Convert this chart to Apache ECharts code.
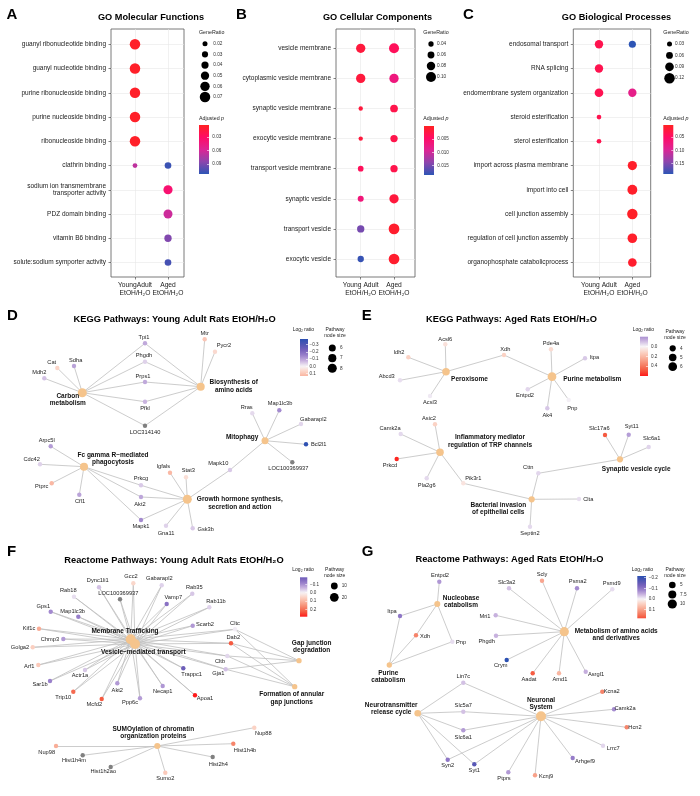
<!DOCTYPE html>
<html>
<head>
<meta charset="utf-8">
<script src="https://cdn.jsdelivr.net/npm/echarts@6.0.0/dist/echarts.min.js"></script>
<style>html,body{margin:0;padding:0;background:#fff;}#chart{width:700px;height:796px;}</style>
</head>
<body>
<div id="chart"></div>
<script>
// ================= DATA =================
// ---- A: GO Molecular Functions ----
const mfTerms = ['guanyl ribonucleotide binding','guanyl nucleotide binding','purine ribonucleoside binding','purine nucleoside binding','ribonucleoside binding','clathrin binding','sodium ion transmembrane\ntransporter activity','PDZ domain binding','vitamin B6 binding','solute:sodium symporter activity'];
const mfGroups = ['YoungAdult\nEtOH/H\u2082O','Aged\nEtOH/H\u2082O'];
const mfYoungRatio = [0.07,0.07,0.07,0.07,0.07,0.018,null,null,null,null];
const mfYoungPadj  = [0.006,0.006,0.006,0.006,0.006,0.068,null,null,null,null];
const mfAgedRatio  = [null,null,null,null,null,0.035,0.058,0.056,0.041,0.035];
const mfAgedPadj   = [null,null,null,null,null,0.108,0.036,0.063,0.088,0.105];
const mfRatioTicks = [0.02,0.03,0.04,0.05,0.06,0.07];
const mfPadjTicks  = [0.03,0.06,0.09];

// ---- B: GO Cellular Components ----
const ccTerms = ['vesicle membrane','cytoplasmic vesicle membrane','synaptic vesicle membrane','exocytic vesicle membrane','transport vesicle membrane','synaptic vesicle','transport vesicle','exocytic vesicle'];
const ccGroups = ['Young Adult\nEtOH/H\u2082O','Aged\nEtOH/H\u2082O'];
const ccYoungRatio = [0.091,0.091,0.028,0.028,0.045,0.049,0.066,0.053];
const ccYoungPadj  = [0.002,0.002,0.002,0.002,0.004,0.0066,0.015,0.018];
const ccAgedRatio  = [0.100,0.091,0.071,0.066,0.066,0.091,0.109,0.109];
const ccAgedPadj   = [0.004,0.007,0.003,0.003,0.003,0.002,0.001,0.001];
const ccRatioTicks = [0.04,0.06,0.08,0.10];
const ccPadjTicks  = [0.005,0.010,0.015];

// ---- C: GO Biological Processes ----
const bpTerms = ['endosomal transport','RNA splicing','endomembrane system organization','steroid esterification','sterol esterification','import across plasma membrane','import into cell','cell junction assembly','regulation of cell junction assembly','organophosphate catabolicprocess'];
const bpGroups = ['Young Adult\nEtOH/H\u2082O','Aged\nEtOH/H\u2082O'];
const bpYoungRatio = [0.085,0.085,0.09,0.025,0.025,null,null,null,null,null];
const bpYoungPadj  = [0.035,0.035,0.037,0.035,0.035,null,null,null,null,null];
const bpAgedRatio  = [0.065,null,0.085,null,null,0.10,0.11,0.12,0.105,0.09];
const bpAgedPadj   = [0.19,null,0.085,null,null,0.01,0.01,0.008,0.01,0.012];
const bpRatioTicks = [0.03,0.06,0.09,0.12];
const bpPadjTicks  = [0.05,0.10,0.15];

// ---- D: KEGG young adult ----
const kyGenes = ['Tpi1','Mtr','Pycr2','Phgdh','Cat','Sdha','Mdh2','Prps1','Pfkl','LOC314140','Rras','Map1lc3b','Gabarapl2','Bcl2l1','LOC100369937','Arpc5l','Cdc42','Igfals','Stat3','Mapk10','Prkcg','Ptprc','Cfl1','Akt2','Mapk1','Gna11','Gsk3b'];
const kyLogRatio = [-0.09,0.10,0.06,-0.04,0.07,-0.10,-0.06,-0.09,-0.075,null,-0.03,-0.135,-0.035,-0.37,null,-0.11,-0.04,0.13,0.05,-0.05,-0.05,0.13,-0.10,-0.095,-0.135,-0.04,-0.05];
const kyPathIds = ['carbon','biosyn','mitophagy','fcgamma','gh'];
const kyPathLabels = ['Carbon\nmetabolism','Biosynthesis of\namino acids','Mitophagy','Fc gamma R\u2212mediated\nphagocytosis','Growth hormone synthesis,\nsecretion and action'];
const kyMembers = [
  ['Cat','Sdha','Mdh2','Tpi1','Phgdh','Prps1','Pfkl','LOC314140'],
  ['Tpi1','Phgdh','Prps1','Pfkl','LOC314140','Mtr','Pycr2'],
  ['Rras','Map1lc3b','Gabarapl2','Bcl2l1','LOC100369937','Mapk10'],
  ['Arpc5l','Cdc42','Ptprc','Cfl1','Prkcg','Akt2','Mapk1'],
  ['Prkcg','Akt2','Mapk1','Gna11','Gsk3b','Igfals','Stat3','Mapk10']];
const kyLrTicks = [-0.3,-0.2,-0.1,0.0,0.1];
const kySizeTicks = [6,7,8];

// ---- E: KEGG aged ----
const kaGenes = ['Acsl6','Idh2','Xdh','Pde4a','Itpa','Abcd3','Entpd2','Acsl3','Pnp','Ak4','Asic2','Camk2a','Prkcd','Slc17a6','Syt11','Slc6a1','Cttn','Pla2g6','Pik3r1','Clta','Septin2'];
const kaLogRatio = [0.07,0.12,0.12,0.09,-0.08,-0.04,-0.055,-0.02,-0.01,-0.085,0.12,-0.05,0.58,0.48,-0.17,-0.06,-0.055,-0.05,0.06,-0.04,-0.05];
const kaPathIds = ['peroxisome','purine','inflammatory','bacterial','synaptic'];
const kaPathLabels = ['Peroxisome','Purine metabolism','Inflammatory mediator\nregulation of TRP channels','Bacterial invasion\nof epithelial cells','Synaptic vesicle cycle'];
const kaMembers = [
  ['Acsl6','Idh2','Xdh','Abcd3','Acsl3'],
  ['Xdh','Pde4a','Itpa','Entpd2','Pnp','Ak4'],
  ['Asic2','Camk2a','Prkcd','Pla2g6','Pik3r1'],
  ['Pik3r1','Cttn','Clta','Septin2'],
  ['Slc17a6','Syt11','Slc6a1','Cttn']];
const kaLrTicks = [0.0,0.2,0.4];
const kaSizeTicks = [4,5,6];

// ---- F: Reactome young adult ----
const ryGenes = ['Dync1li1','Gcc2','Gabarapl2','Rab35','Rab18','LOC100369937','Vamp7','Rab11b','Gps1','Map1lc3b','Scarb2','Cltc','Kif1c','Chmp3','Dab2','Golga2','Cltb','Arf1','Actr1a','Trappc1','Gja1','Sar1b','Akt2','Necap1','Trip10','Mcfd2','Ppp6c','Apoa1','Nup88','Hist1h4b','Nup98','Hist1h4m','Hist2h4','Hist1h2ao','Sumo2'];
const ryLogRatio = [-0.045,0.05,-0.03,-0.04,-0.02,null,-0.14,-0.03,-0.105,-0.12,-0.087,-0.006,0.12,-0.087,0.23,0.063,-0.026,0.072,-0.04,-0.185,-0.046,-0.115,-0.087,-0.09,0.21,0.23,-0.084,0.289,0.058,0.173,0.115,null,null,null,0.07];
const ryTraffic = ['Dync1li1','Gcc2','Gabarapl2','Rab35','Rab18','LOC100369937','Vamp7','Rab11b','Gps1','Map1lc3b','Scarb2','Cltc','Kif1c','Chmp3','Dab2','Golga2','Cltb','Arf1','Actr1a','Trappc1','Gja1','Sar1b','Akt2','Necap1','Trip10','Mcfd2','Ppp6c','Apoa1'];
const ryPathIds = ['mt','vmt','gap','formation','sumo'];
const ryPathLabels = ['Membrane Trafficking','Vesicle\u2212mediated transport','Gap junction\ndegradation','Formation of annular\ngap junctions','SUMOylation of chromatin\norganization proteins'];
const ryMembers = [
  ryTraffic,
  ryTraffic,
  ['Cltc','Dab2','Cltb','Gja1'],
  ['Cltc','Dab2','Cltb','Gja1'],
  ['Nup88','Hist1h4b','Nup98','Hist1h4m','Hist2h4','Hist1h2ao','Sumo2']];
const ryLrTicks = [-0.1,0.0,0.1,0.2];
const rySizeTicks = [10,20];

// ---- G: Reactome aged ----
const raGenes = ['Entpd2','Slc3a2','Scly','Psma2','Psmd9','Itpa','Mri1','Xdh','Phgdh','Pnp','Crym','Aadat','Amd1','Asrgl1','Lin7c','Kcna2','Slc5a7','Camk2a','Slc6a1','Hcn2','Lrrc7','Syn2','Arhgef9','Syt1','Ptprs','Kcnj9'];
const raLogRatio = [-0.067,-0.034,0.095,-0.077,-0.015,-0.10,-0.045,0.13,-0.045,-0.015,-0.215,0.17,0.077,-0.047,-0.034,0.13,-0.034,-0.077,-0.064,0.128,-0.02,-0.10,-0.09,-0.163,-0.065,0.10];
const raPathIds = ['nucleobase','purinecat','metabolism','neurotransmitter','neuronal'];
const raPathLabels = ['Nucleobase\ncatabolism','Purine\ncatabolism','Metabolism of amino acids\nand derivatives','Neurotransmitter\nrelease cycle','Neuronal\nSystem'];
const raMembers = [
  ['Entpd2','Itpa','Xdh','Pnp'],
  ['Itpa','Xdh','Pnp'],
  ['Slc3a2','Scly','Psma2','Psmd9','Mri1','Phgdh','Crym','Aadat','Amd1','Asrgl1'],
  ['Lin7c','Slc5a7','Slc6a1','Syn2','Syt1'],
  ['Lin7c','Slc5a7','Slc6a1','Syn2','Syt1','Ptprs','Kcnj9','Arhgef9','Lrrc7','Hcn2','Camk2a','Kcna2']];
const raLrTicks = [-0.2,-0.1,0.0,0.1];
const raSizeTicks = [5,7.5,10];

// ============ NETWORK LAYOUTS (node position x, y inside panel; label offset dx, dy) ============
const kyLayout = {
  Tpi1:[145,43.3,-1,-6], Mtr:[204.7,39.3,0,-6], Pycr2:[215,51.7,9,-6], Phgdh:[145,61.7,-1,-6],
  Cat:[57.3,68,-5.6,-5.7], Sdha:[74,66,1.7,-6], Mdh2:[44.3,78.3,-5,-5.6], Prps1:[145,82,-2,-6],
  Pfkl:[145,101.7,0,6.6], LOC314140:[145,125.7,0,7], Rras:[252.3,113.3,-5.6,-5.5], Map1lc3b:[279.3,110.3,0.7,-6.6],
  Gabarapl2:[301,124,12.3,-5], Bcl2l1:[306,144.3,12.7,0], LOC100369937:[292.3,162.3,-4,6.4],
  Arpc5l:[50.7,146.3,-4,-5.6], Cdc42:[40,164.3,-8.3,-5.3], Igfals:[170,172.7,-6.7,-6], Stat3:[186,177.3,2.3,-7],
  Mapk10:[230,170,-11.7,-6.7], Prkcg:[141,185.3,0,-7], Ptprc:[51.7,183.3,-10,3.4], Cfl1:[79.3,194.7,0.7,7],
  Akt2:[141,197,-1,7], Mapk1:[141,220,0,6], Gna11:[166,225.7,0,7.6], Gsk3b:[192.7,228.3,13,1],
  carbon:[82.3,92.7,-14.5,7.2], biosyn:[200.7,86.7,33,-0.4], mitophagy:[265,140.7,-22.8,-3.7],
  fcgamma:[84,166.7,29,-8], gh:[187.3,199.3,52.5,4]
};
const kaLayout = {
  Acsl6:[95.3,44.3,0,-5.3], Idh2:[58.3,57.3,-9.3,-5], Xdh:[154,55,1.3,-6], Pde4a:[201,49.3,0,-6],
  Itpa:[235,58.3,9.3,-1], Abcd3:[50,80.3,-13.3,-3.6], Entpd2:[177.7,89.3,-2.7,6.4], Acsl3:[80,96,0,6.5],
  Pnp:[218.7,100,3.6,8.3], Ak4:[197.3,108.3,0,6.7], Asic2:[85,124.3,-6,-6], Camk2a:[50.7,134,-10.7,-5.7],
  Prkcd:[46.7,159,-6.7,6], Slc17a6:[255,135,-5.7,-6.7], Syt11:[278.7,134.7,3,-8], Slc6a1:[298.7,147,3,-8.7],
  Cttn:[188.3,173.3,-10,-6], Pla2g6:[76.7,178.3,0,6.7], Pik3r1:[113.3,183.3,10,-4.5], Clta:[229,199,9.3,0],
  Septin2:[180,226.7,0,6.6],
  peroxisome:[96,71.7,23.5,7.3], purine:[202,76.7,40.3,2.3], inflammatory:[90,152.3,50,-11.1],
  bacterial:[181.7,199.3,-33.4,9.5], synaptic:[270,159.3,16.2,10]
};
const ryLayout = {
  Dync1li1:[99,47.3,-1.3,-6.6], Gcc2:[133.3,43.3,-2.3,-6.6], Gabarapl2:[161.7,45.3,-2.4,-7], Rab35:[192.3,53.7,2,-6],
  Rab18:[74,56.7,-5.7,-6], LOC100369937:[120,59.3,-1.7,-6], Vamp7:[166.7,64,6.6,-6.7], Rab11b:[209.3,67.3,6.7,-5.6],
  Gps1:[50.7,71.7,-7.4,-5.7], Map1lc3b:[78.3,76.7,-5.6,-5.7], Scarb2:[192.7,85.7,12.3,-1.7], Cltc:[235,89.3,0,-6],
  Kif1c:[39,88.7,-10,0], Chmp3:[63.3,99,-13.3,0], Dab2:[231,103.3,2.3,-6], Golga2:[32.7,107.3,-12.7,0],
  Cltb:[227.3,116,-7.3,5], Arf1:[38.3,125,-9,1], Actr1a:[85,130,-5,5], Trappc1:[183.3,128.3,8.4,6],
  Gja1:[225.7,129.3,-7.4,4], Sar1b:[50,141,-10,3], Akt2:[117.3,143.3,0,6.7], Necap1:[162.7,146,0,5.5],
  Trip10:[73.3,151.7,-10,6], Mcfd2:[101.7,159,-7.4,5], Ppp6c:[140,158.3,-10,4], Apoa1:[195,155.3,10,3.4],
  Nup88:[254.3,187.7,9,6], Hist1h4b:[233.3,203.7,11.7,6.3], Nup98:[56,206,-9.3,6], Hist1h4m:[82.7,215.3,-8.7,4.7],
  Hist2h4:[212.7,217,5.6,7], Hist1h2ao:[110.7,227,-7.4,4.7], Sumo2:[165.3,232.7,0,5.6],
  mt:[130.7,99.3,-5.7,-7.6], vmt:[135,104,8.3,8.7], gap:[299,120.7,12.7,-14], formation:[294.7,146.7,-3,11.6],
  sumo:[157.3,206,-4,-13.5]
};
const raLayout = {
  Entpd2:[89.3,41.7,0.7,-6.7], Slc3a2:[159,48.3,-2.3,-6], Scly:[192,40.7,0,-6.4], Psma2:[227,48.3,0.7,-6.6],
  Psmd9:[262.3,49.3,-0.6,-5.6], Itpa:[50,76,-8,-4.3], Mri1:[145.7,75.3,-10.7,0.7], Xdh:[66,95.3,9,0.7],
  Phgdh:[146,95.7,-9.3,6], Pnp:[102.3,101.7,8.7,0.3], Crym:[156.7,120,-6,5.7], Aadat:[182.7,133.3,-3.7,6],
  Amd1:[209,133.3,1,6], Asrgl1:[235.7,131.7,10.3,2.6], Lin7c:[113.3,142.7,0,-6], Kcna2:[252.3,151.7,9.4,-0.7],
  Slc5a7:[113.3,171.7,0,-6.7], Camk2a:[264,169.3,11,-1], Slc6a1:[113.3,190.3,0,7], Hcn2:[276.7,187.3,8.3,0.4],
  Lrrc7:[253,205.7,10.3,2.6], Syn2:[97.7,219.7,0,6], Arhgef9:[222.7,218,12.3,3.3], Syt1:[124.3,224.3,0,6.4],
  Ptprs:[158.3,232.3,-4.3,6], Kcnj9:[185,235.3,11,1.4],
  nucleobase:[87.3,64,23.7,-2.3], purinecat:[39.3,125,-1,11.5], metabolism:[214.3,91.7,51.9,3.3],
  neurotransmitter:[67.7,173.3,-26.5,-4.6], neuronal:[191,176.3,0,-12.6]
};

// ================= STYLE =================
const FONT = "'Liberation Sans', Arial, Helvetica, sans-serif";
const P_COLORS = ['#ff2222','#ff0c66','#dc2595','#8c46ad','#2d55b5'];
const LR_STOPS = ['#2b50b2','#4f55b3','#7560bb','#9a80cb','#c9b3df','#f7f4f7','#fbd2c4','#f9ae98','#f6856b','#f55a40','#ff1a1a'];
const HUB_COLOR = '#f5c48c';
const NA_COLOR = '#808080';
const EDGE_COLOR = '#bfbfbf';

const grids = [], xAxes = [], yAxes = [], series = [], visualMaps = [], graphics = [];

function addGrid(g, xa, ya) {
  const i = grids.length;
  grids.push(Object.assign({containLabel: false, outerBoundsMode: 'none'}, g));
  const noZero = {axisLine: Object.assign({show: false, onZero: false}, {})};
  xAxes.push(Object.assign({gridIndex: i}, noZero, xa));
  yAxes.push(Object.assign({gridIndex: i}, noZero, ya));
  return i;
}
function txt(str, x, y, o) {
  o = o || {};
  const style = {text: str, fill: o.color || '#000', fontSize: o.size || 6, fontWeight: o.bold ? 'bold' : 'normal',
    fontFamily: FONT, align: o.align || 'left', verticalAlign: 'middle'};
  if (o.lh) style.lineHeight = o.lh;
  if (o.rich) style.rich = o.rich;
  graphics.push({type: 'text', x: x, y: y, silent: true, z: 10, style: style});
}
const linearDiam = (v0, d0, v1, d1) => v => d0 + (v - v0) * (d1 - d0) / (v1 - v0);
const areaDiam = (c0, d0, c1, d1) => c => Math.sqrt(Math.max(1, d0 * d0 + (c - c0) / (c1 - c0) * (d1 * d1 - d0 * d0)));
const lrColor = (v, M) => echarts.color.lerp(Math.min(1, Math.max(0, 0.5 + v / (2 * M))), LR_STOPS);
const HIDDEN_LINE = {show: false, onZero: false};

function sizeLegend(cx, top, rowH, values, labels, sizeFn, gap, fs) {
  const gi = addGrid({left: cx - 5, top: top, width: 10, height: rowH * values.length, show: false},
    {type: 'category', data: [''], show: false},
    {type: 'category', data: labels, inverse: true, position: 'right', axisLine: HIDDEN_LINE, axisTick: {show: false},
     splitLine: {show: false}, axisLabel: {interval: 0, fontSize: fs, margin: gap - 5, color: '#333', fontFamily: FONT}});
  series.push({type: 'scatter', xAxisIndex: gi, yAxisIndex: gi, silent: true,
    data: values.map((v, i) => ({value: [0, i], symbolSize: sizeFn(v)})), itemStyle: {color: '#000', opacity: 1}});
}
function colorBar(rect, min, max, ticks, stops, fmt, margin) {
  const gi = addGrid({left: rect[0], top: rect[1], width: rect[2], height: rect[3], show: true, borderWidth: 0,
      backgroundColor: {type: 'linear', x: 0, y: 0, x2: 0, y2: 1, colorStops: stops}},
    {type: 'value', min: 0, max: 1, show: false},
    {type: 'value', min: min, max: max, inverse: true, position: 'right', axisLine: HIDDEN_LINE, splitLine: {show: false},
     axisTick: {show: true, inside: true, length: 2, customValues: ticks, lineStyle: {color: '#fff', width: 0.6}},
     axisLabel: {customValues: ticks, formatter: fmt, fontSize: 4.6, margin: margin, color: '#333', fontFamily: FONT}});
  return gi;
}

function dotPlot(c) {
  const idx = c.terms.map((_, i) => i);
  const gl = {color: '#e8e8e8', width: 0.6};
  const gi = addGrid(
    {left: c.frame[0], top: c.frame[1], width: c.frame[2], height: c.frame[3], show: true, borderColor: '#595959', borderWidth: 0.8, backgroundColor: '#fff'},
    {type: 'value', min: c.xRange[0], max: c.xRange[1], position: 'bottom', axisLine: HIDDEN_LINE,
     axisTick: {show: true, customValues: [0, 1], length: 2.5, lineStyle: {color: '#333', width: 0.6}},
     axisLabel: {customValues: [0, 1], formatter: v => c.groups[Math.round(v)], fontSize: 6.7, lineHeight: 7.8, margin: 4.5, color: '#1a1a1a', fontFamily: FONT},
     splitLine: {show: true, lineStyle: gl}},
    {type: 'value', min: c.yRange[0], max: c.yRange[1], inverse: true, position: 'left', axisLine: HIDDEN_LINE,
     axisTick: {show: true, customValues: idx, length: 2.5, lineStyle: {color: '#333', width: 0.6}},
     axisLabel: {customValues: idx, formatter: v => c.terms[Math.round(v)], fontSize: 6.5, lineHeight: 7.7, margin: 5, color: '#1a1a1a', fontFamily: FONT},
     splitLine: {show: true, lineStyle: gl}});
  const data = [];
  [c.young, c.aged].forEach((g, col) => {
    g[0].forEach((r, i) => { if (r != null) data.push([col, i, r, g[1][i]]); });
  });
  series.push({type: 'scatter', xAxisIndex: gi, yAxisIndex: gi, data: data, symbolSize: v => c.size(v[2]),
    itemStyle: {opacity: 1}, silent: true, z: 5});
  visualMaps.push({type: 'continuous', show: false, seriesIndex: series.length - 1, dimension: 3,
    min: c.pRange[0], max: c.pRange[1], inRange: {color: P_COLORS}});
  // legends
  const lg = c.legend;
  txt('GeneRatio', lg.x, 33, {size: 5.3, color: '#222'});
  sizeLegend(lg.cx, lg.rowsTop, lg.rowH, c.ratioTicks, c.ratioTicks.map(v => v.toFixed(2)), c.size, lg.gap, 4.7);
  txt('{a|Adjusted }{b|p}', lg.x, 118.5, {size: 5.3, rich: {
    a: {fontSize: 5.3, fontFamily: FONT, fill: '#222'}, b: {fontSize: 5.3, fontStyle: 'italic', fontFamily: FONT, fill: '#222'}}});
  const stops = P_COLORS.map((col, i) => ({offset: i / (P_COLORS.length - 1), color: col}));
  colorBar(lg.bar, c.pRange[0], c.pRange[1], c.pTicks, stops, v => v.toFixed(c.pDigits), lg.barMargin);
}

function network(c) {
  const [ox, oy, w, h] = c.rect;
  const gi = addGrid({left: ox, top: oy, width: w, height: h, show: false},
    {type: 'value', min: 0, max: w, show: false},
    {type: 'value', min: 0, max: h, inverse: true, show: false});
  const nodes = [];
  c.pathIds.forEach((id, k) => {
    const L = c.layout[id];
    nodes.push({name: id, value: [L[0], L[1]], symbolSize: c.hubSize(c.members[k].length), itemStyle: {color: HUB_COLOR},
      label: {show: true, position: 'inside', offset: [L[2], L[3]], formatter: c.pathLabels[k], fontSize: 6.5,
        fontWeight: 'bold', color: '#111', lineHeight: 7.3, fontFamily: FONT}});
  });
  c.genes.forEach((g, k) => {
    const L = c.layout[g]; const v = c.logRatio[k];
    nodes.push({name: g, value: [L[0], L[1]], symbolSize: 4.4, itemStyle: {color: v == null ? NA_COLOR : lrColor(v, c.M)},
      label: {show: true, position: 'inside', offset: [L[2], L[3]], fontSize: 5.7, color: '#222', fontFamily: FONT}});
  });
  const links = [];
  c.pathIds.forEach((id, k) => c.members[k].forEach(g => links.push({source: id, target: g})));
  series.push({type: 'graph', layout: 'none', coordinateSystem: 'cartesian2d', xAxisIndex: gi, yAxisIndex: gi,
    data: nodes, links: links, silent: true, roam: false,
    lineStyle: {color: EDGE_COLOR, width: 0.8, opacity: 1, curveness: 0}, itemStyle: {opacity: 1},
    emphasis: {disabled: true}});
  // legends
  const lg = c.legend;
  txt('Log\u2082 ratio', lg.titleX, lg.titleY, {size: 5, color: '#222'});
  const n = 24, stops = [];
  for (let i = 0; i <= n; i++) {
    const v = c.lrRange[0] + (c.lrRange[1] - c.lrRange[0]) * i / n;
    stops.push({offset: i / n, color: lrColor(v, c.M)});
  }
  colorBar(lg.bar, c.lrRange[0], c.lrRange[1], c.lrTicks, stops,
    v => (v < -1e-9 ? '\u2212' : '') + Math.abs(v).toFixed(1), lg.barMargin);
  txt('Pathway\nnode size', lg.sizeTitleX, lg.sizeTitleY, {size: 5, color: '#222', align: 'center', lh: 6});
  sizeLegend(lg.cx, lg.rowsTop, lg.rowH, c.sizeTicks, c.sizeTicks.map(String), c.hubSize, lg.gap, 4.7);
}

// ================= BUILD =================
dotPlot({terms: mfTerms, groups: mfGroups, young: [mfYoungRatio, mfYoungPadj], aged: [mfAgedRatio, mfAgedPadj],
  frame: [111, 29, 73, 248], xRange: [-0.727, 1.485], yRange: [-0.631, 9.598],
  size: linearDiam(0.02, 5, 0.07, 10.5), pRange: [0.0033, 0.112], pTicks: mfPadjTicks, pDigits: 2, ratioTicks: mfRatioTicks,
  legend: {x: 199, cx: 205, rowsTop: 38.4, rowH: 10.66, gap: 8.3, bar: [199, 125, 10, 49], barMargin: 3.3}});
dotPlot({terms: ccTerms, groups: ccGroups, young: [ccYoungRatio, ccYoungPadj], aged: [ccAgedRatio, ccAgedPadj],
  frame: [336, 29, 79, 248], xRange: [-0.742, 1.63], yRange: [-0.641, 7.598],
  size: linearDiam(0.04, 5.3, 0.10, 10), pRange: [0.0002, 0.0185], pTicks: ccPadjTicks, pDigits: 3, ratioTicks: ccRatioTicks,
  legend: {x: 423.3, cx: 431, rowsTop: 38.5, rowH: 11, gap: 6, bar: [424, 126, 10, 49], barMargin: 3.3}});
dotPlot({terms: bpTerms, groups: bpGroups, young: [bpYoungRatio, bpYoungPadj], aged: [bpAgedRatio, bpAgedPadj],
  frame: [573.3, 29, 77.4, 248], xRange: [-0.77, 1.55], yRange: [-0.631, 9.598],
  size: linearDiam(0.03, 5, 0.12, 10.5), pRange: [0.004, 0.19], pTicks: bpPadjTicks, pDigits: 2, ratioTicks: bpRatioTicks,
  legend: {x: 663.3, cx: 669.5, rowsTop: 38.3, rowH: 11.4, gap: 5.5, bar: [663.3, 125, 10, 49], barMargin: 2}});

network({rect: [0, 300, 350, 240], genes: kyGenes, logRatio: kyLogRatio, pathIds: kyPathIds, pathLabels: kyPathLabels,
  members: kyMembers, layout: kyLayout, M: 0.378, lrRange: [-0.378, 0.134], lrTicks: kyLrTicks, sizeTicks: kySizeTicks,
  hubSize: areaDiam(6, 7, 8, 9),
  legend: {titleX: 292.7, titleY: 330, bar: [300, 339, 8, 37], barMargin: 1.5, sizeTitleX: 335, sizeTitleY: 332.3,
    cx: 332.3, rowsTop: 342.9, rowH: 10.15, gap: 7.7}});
network({rect: [350, 300, 350, 240], genes: kaGenes, logRatio: kaLogRatio, pathIds: kaPathIds, pathLabels: kaPathLabels,
  members: kaMembers, layout: kaLayout, M: 0.6, lrRange: [-0.2, 0.6], lrTicks: kaLrTicks, sizeTicks: kaSizeTicks,
  hubSize: areaDiam(4, 6.2, 6, 8.7),
  legend: {titleX: 632.7, titleY: 330, bar: [640, 336.7, 8, 39.3], barMargin: 3, sizeTitleX: 675, sizeTitleY: 334.2,
    cx: 672.7, rowsTop: 343.7, rowH: 9.2, gap: 7.3}});
network({rect: [0, 540, 350, 256], genes: ryGenes, logRatio: ryLogRatio, pathIds: ryPathIds, pathLabels: ryPathLabels,
  members: ryMembers, layout: ryLayout, M: 0.289, lrRange: [-0.184, 0.289], lrTicks: ryLrTicks, sizeTicks: rySizeTicks,
  hubSize: areaDiam(4, 5.3, 28, 10),
  legend: {titleX: 292.3, titleY: 570, bar: [300, 577.3, 7.3, 39.4], barMargin: 2.7, sizeTitleX: 334.7, sizeTitleY: 572.2,
    cx: 334.3, rowsTop: 580.35, rowH: 11.3, gap: 7.4}});
network({rect: [350, 540, 350, 256], genes: raGenes, logRatio: raLogRatio, pathIds: raPathIds, pathLabels: raPathLabels,
  members: raMembers, layout: raLayout, M: 0.215, lrRange: [-0.215, 0.18], lrTicks: raLrTicks, sizeTicks: raSizeTicks,
  hubSize: areaDiam(3, 5.3, 12, 10),
  legend: {titleX: 631.7, titleY: 570, bar: [637.3, 576, 8.7, 42.3], barMargin: 2.7, sizeTitleX: 675, sizeTitleY: 573,
    cx: 672.3, rowsTop: 580.25, rowH: 9.5, gap: 7.7}});

// titles and panel letters
[['A', 6.5, 14.7], ['B', 236, 14.7], ['C', 463, 14.7], ['D', 7, 316], ['E', 361.7, 316], ['F', 7, 552], ['G', 361.7, 552]]
  .forEach(l => txt(l[0], l[1], l[2], {size: 15, bold: true}));
txt('GO Molecular Functions', 151, 17.5, {size: 9.2, bold: true, align: 'center'});
txt('GO Cellular Components', 377.5, 17.5, {size: 9.2, bold: true, align: 'center'});
txt('GO Biological Processes', 616.5, 17.5, {size: 9.2, bold: true, align: 'center'});
txt('KEGG Pathways: Young Adult Rats EtOH/H\u2082O', 174.7, 319.3, {size: 9.3, bold: true, align: 'center'});
txt('KEGG Pathways: Aged Rats EtOH/H\u2082O', 511.5, 319.3, {size: 9.3, bold: true, align: 'center'});
txt('Reactome Pathways: Young Adult Rats EtOH/H\u2082O', 174, 560, {size: 9.3, bold: true, align: 'center'});
txt('Reactome Pathways: Aged Rats EtOH/H\u2082O', 509.5, 559.5, {size: 9.3, bold: true, align: 'center'});

const chart = echarts.init(document.getElementById('chart'), null, {renderer: 'canvas', width: 700, height: 796});
chart.setOption({
  animation: false, backgroundColor: '#fff', textStyle: {fontFamily: FONT},
  grid: grids, xAxis: xAxes, yAxis: yAxes, series: series, visualMap: visualMaps,
  graphic: {elements: graphics}
});
</script>
</body>
</html>
